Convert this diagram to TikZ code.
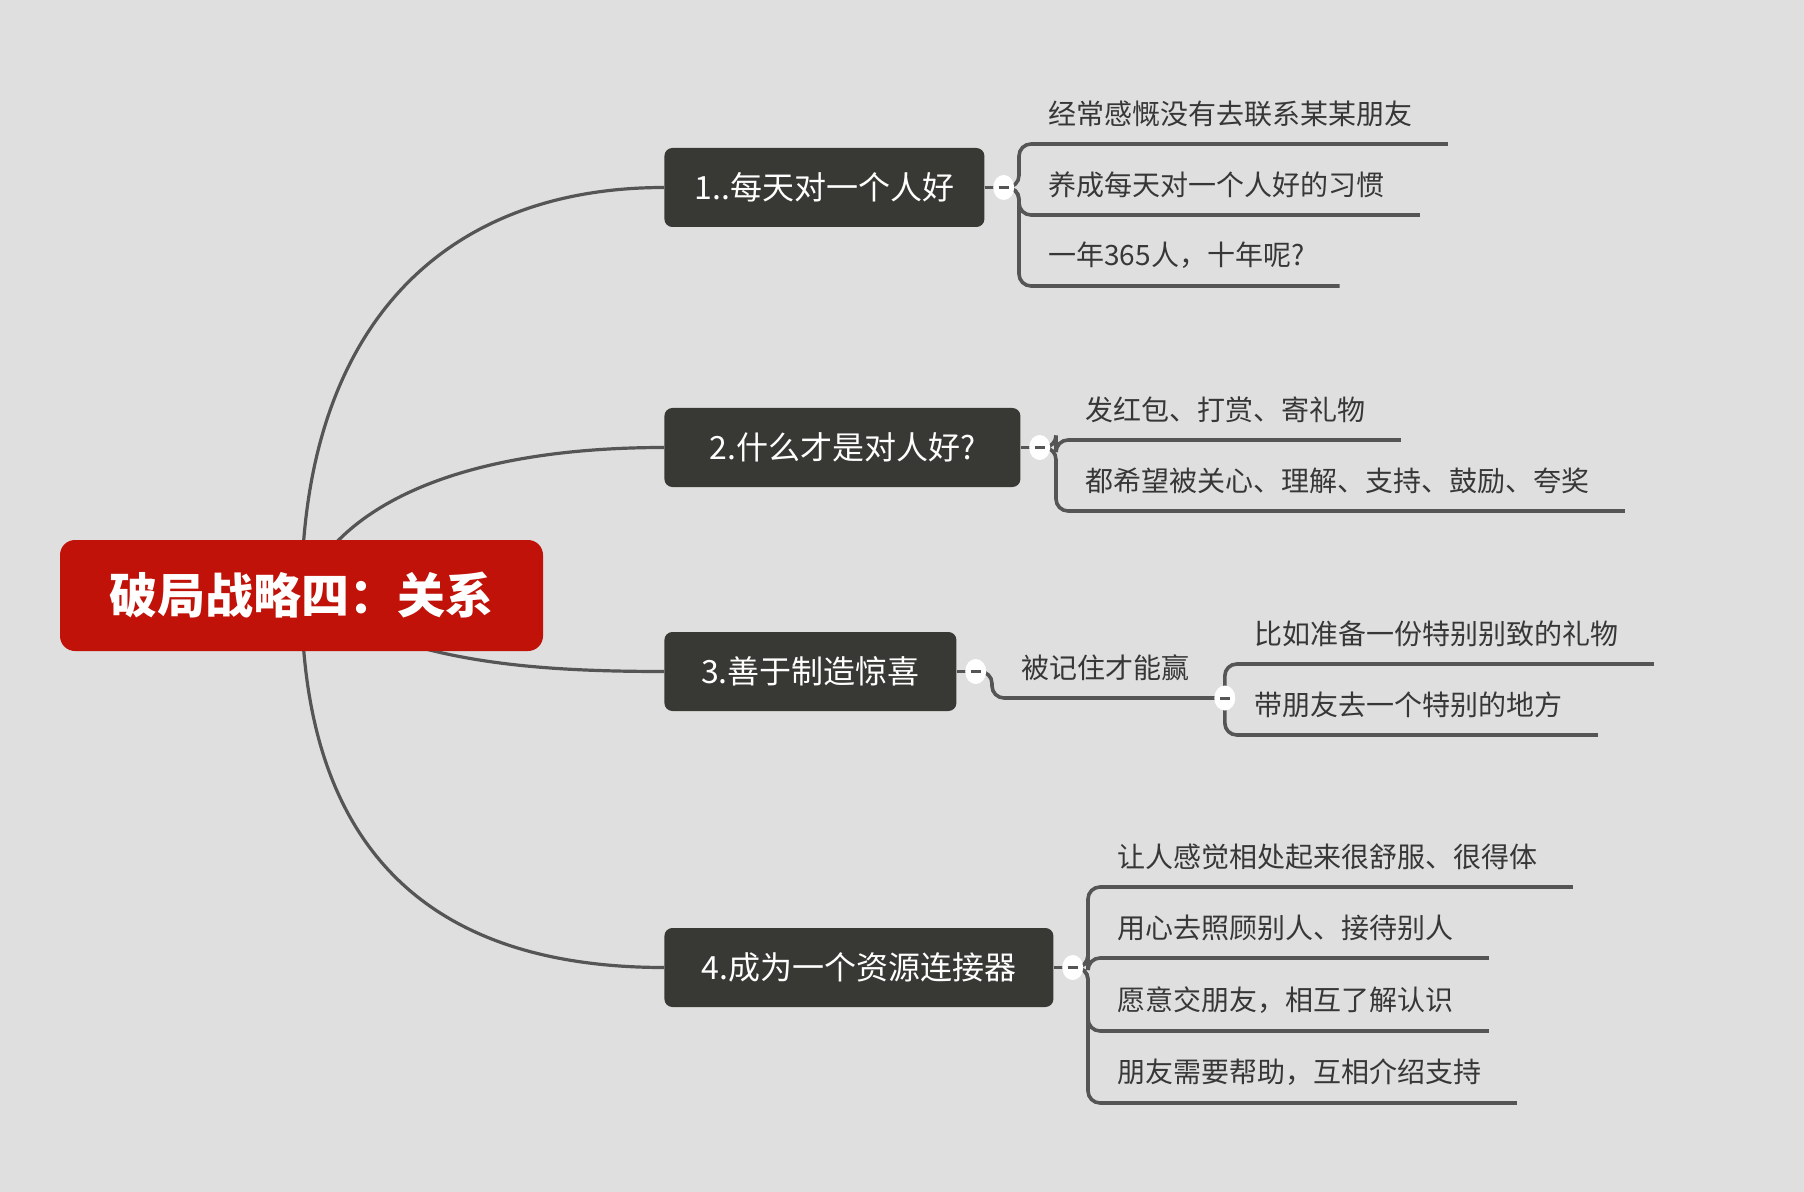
\documentclass[tikz,border=0pt]{standalone}
\usepackage{fontspec}
\newfontfamily\cjk{Noto Sans CJK SC}
\usetikzlibrary{shapes.geometric,positioning,backgrounds}
\definecolor{bggray}{RGB}{223,223,223}
\definecolor{rootred}{RGB}{192,18,8}
\definecolor{topicdark}{RGB}{56,56,52}
\definecolor{linegray}{RGB}{85,85,85}
\definecolor{leafgray}{RGB}{55,55,55}

\begin{document}
\begin{tikzpicture}[
        x=0.5pt, y=-0.5pt,
        root/.style={fill=rootred, text=white, rounded corners=7.5pt, minimum width=241.5pt, minimum height=55.5pt, font=\cjk\bfseries\fontsize{24}{28}\selectfont},
        topic/.style={fill=topicdark, text=white, rounded corners=4pt, minimum height=39.5pt, anchor=west, font=\cjk\fontsize{16}{18}\selectfont},
        toggle/.style={ellipse, fill=white, inner sep=0pt, minimum width=10.5pt, minimum height=12.5pt, path picture={\draw[line width=1.5pt, linegray] ([xshift=-2.5pt]path picture bounding box.center) -- ([xshift=2.5pt]path picture bounding box.center);}},
        leaf/.style={text=leafgray, anchor=south west, inner xsep=0pt, minimum height=30pt, font=\cjk\fontsize{14}{16}\selectfont, execute at begin node=\hspace*{14.5pt}, execute at end node=\hspace*{17.5pt}},
        branch/.style={draw=linegray, line width=1.6pt},
        link/.style={draw=linegray, line width=1.8pt, rounded corners=6pt}
    ]
        \useasboundingbox (0,0) rectangle (1804,1192);

        \node[root] (root) at (301.5,595.5) {破局战略四：关系};

        \node[topic, minimum width=160pt] (t1) at (664,187.5) {1..每天对一个人好};
        \node[topic, minimum width=178pt] (t2) at (664,447.5) {2.什么才是对人好?};
        \node[topic, minimum width=146pt] (t3) at (664,671.5) {3.善于制造惊喜};
        \node[topic, minimum width=194.5pt] (t4) at (664,967.5) {4.成为一个资源连接器};

        \node[toggle, right=4pt of t1] (c1) {};
        \node[toggle, right=4pt of t2] (c2) {};
        \node[toggle, right=4pt of t3] (c3) {};
        \node[toggle, right=4pt of t4] (c4) {};

        % 1
        \node[leaf] (l11) at (1019,144) {经常感慨没有去联系某某朋友};
        \node[leaf] (l12) at (1019,215) {养成每天对一个人好的习惯};
        \node[leaf] (l13) at (1019,286) {一年365人，十年呢?};
        % 2
        \node[leaf] (l21) at (1056,440) {发红包、打赏、寄礼物};
        \node[leaf] (l22) at (1056,511) {都希望被关心、理解、支持、鼓励、夸奖};
        % 3
        \node[leaf] (l31) at (992,698) {被记住才能赢};
        \node[toggle] (c3b) at (l31.south east) {};
        \node[leaf] (l32) at (1225,664) {比如准备一份特别别致的礼物};
        \node[leaf] (l33) at (1225,735) {带朋友去一个特别的地方};
        % 4
        \node[leaf] (l41) at (1088,887) {让人感觉相处起来很舒服、很得体};
        \node[leaf] (l42) at (1088,958) {用心去照顾别人、接待别人};
        \node[leaf] (l43) at (1088,1031) {愿意交朋友，相互了解认识};
        \node[leaf] (l44) at (1088,1103) {朋友需要帮助，互相介绍支持};

        \begin{scope}[on background layer]
            \fill[bggray] (0,0) rectangle (1804,1192);

            \draw[branch] (root.center) .. controls (302,330) and (440,187.5) .. (t1.west);
            \draw[branch] (root.center) .. controls (340,500) and (470,447.5) .. (t2.west);
            \draw[branch] (root.center) .. controls (400,660) and (520,671.5) .. (t3.west);
            \draw[branch] (root.center) .. controls (302,860) and (440,967.5) .. (t4.west);

            \draw[link] (t1.east) -- (c1.center);
            \draw[link] (t2.east) -- (c2.center);
            \draw[link] (t3.east) -- (c3.center);
            \draw[link] (t4.east) -- (c4.center);

            \foreach \l in {l11,l12,l13}
                \draw[link] (c1.center) -| (\l.south west) -- (\l.south east);
            \foreach \l in {l21,l22}
                \draw[link] (c2.center) -| (\l.south west) -- (\l.south east);
            \draw[link] (c3.center) -| (l31.south west) -- (l31.south east);
            \foreach \l in {l32,l33}
                \draw[link] (c3b.center) |- (\l.south east);
            \foreach \l in {l41,l42,l43,l44}
                \draw[link] (c4.center) -| (\l.south west) -- (\l.south east);
        \end{scope}
    \end{tikzpicture}
\end{document}
